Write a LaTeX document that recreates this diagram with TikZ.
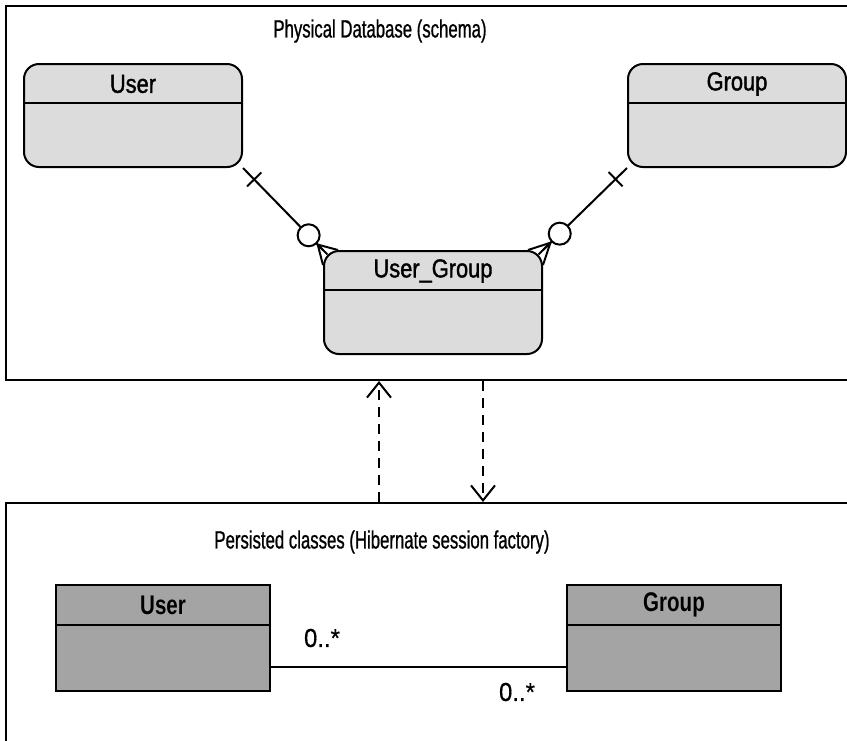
\documentclass[tikz,border=0pt]{standalone}
\usepackage{fontspec}
\setmainfont{Liberation Sans}[FakeStretch=0.67,FakeBold=0.8]
\newfontfamily\entfont{Liberation Sans}[FakeStretch=0.84,FakeBold=1.4]
\newfontfamily\clsfont{Liberation Sans Bold}[FakeStretch=0.76]
\newfontfamily\multfont{Liberation Sans}[FakeStretch=0.92,FakeBold=0.5]
\usetikzlibrary{calc,arrows.meta,backgrounds}
\definecolor{entfill}{HTML}{DCDCDC}
\definecolor{clsfill}{HTML}{A4A4A4}
\begin{document}
\begin{tikzpicture}[x=1pt,y=-1pt,
  frame/.style={draw, line width=2pt, inner sep=0pt, anchor=north west},
  entity/.style={draw, line width=2pt, fill=entfill, rounded corners=15pt,
    minimum width=218pt, minimum height=103pt, inner sep=0pt, anchor=north west},
  classbox/.style={draw, line width=2pt, fill=clsfill,
    minimum width=214pt, minimum height=106pt, inner sep=0pt, anchor=north west},
  divider/.style={line width=1.8pt},
  title/.style={font=\fontsize{25pt}{29pt}\selectfont, inner sep=0pt},
  enttitle/.style={font=\entfont\fontsize{26pt}{30pt}\selectfont, inner sep=0pt},
  clstitle/.style={font=\clsfont\fontsize{27pt}{31pt}\selectfont, inner sep=0pt},
  multlabel/.style={font=\multfont\fontsize{26pt}{30pt}\selectfont, inner sep=0pt},
  erline/.style={line width=2pt},
  assoc/.style={line width=1.6pt},
  dasharrow/.style={line width=2pt, dash pattern=on 10pt off 7pt,
    -{Straight Barb[length=15pt,width=24pt,line width=2pt]}},
  ringend/.style={circle, draw, fill=white, line width=2pt,
    minimum size=22pt, inner sep=0pt}
]
\useasboundingbox (0,0) rectangle (847,740);

% the two packages
\node[frame, minimum width=900pt, minimum height=374pt] (db) at (5,5) {};
\node[frame, minimum width=900pt, minimum height=300pt] (cf) at (5,502) {};
\node[title] (dbtitle) at (380,31) {Physical Database (schema)};
\node[title] (cftitle) at (382,542) {Persisted classes (Hibernate session factory)};

% tables of the schema
\node[entity] (eu) at (23,63) {};
\node[entity] (eg) at (627,63) {};
\node[entity] (eug) at (323,250) {};
\foreach \t/\txt in {eu/User, eg/Group, eug/User\_Group}{
  \draw[divider] ($(\t.north west)+(0,40)$) -- ($(\t.north east)+(0,40)$);
  \node[enttitle] at ($(\t.north)+(0,21)$) {\txt};
}

% relationship lines between the tables
\coordinate (la) at (eu.south east);
\coordinate (lb) at (eug.north west);
\coordinate (ra) at (eg.south west);
\coordinate (rb) at (eug.north east);
\begin{pgfonlayer}{background}
  \draw[erline] (la) -- (lb);
  \draw[erline] (ra) -- (rb);
\end{pgfonlayer}

% "one" bars
\coordinate (lbar) at ($(la)!16pt!(lb)$);
\draw[erline] ($(lbar)!10pt!90:(lb)$) -- ($(lbar)!10pt!-90:(lb)$);
\coordinate (rbar) at ($(ra)!16pt!(rb)$);
\draw[erline] ($(rbar)!10pt!90:(rb)$) -- ($(rbar)!10pt!-90:(rb)$);

% crow's feet
\coordinate (lfoot) at ($(la)!107pt!(lb)$);
\draw[erline, line join=round] ($(lb)+(15,0)$) -- (lfoot) -- ($(lb)+(0,15)$);
\draw[erline] (lfoot) -- ($(lb)+(4.4,4.4)$);
\coordinate (rfoot) at ($(ra)!107pt!(rb)$);
\draw[erline, line join=round] ($(rb)+(-15,0)$) -- (rfoot) -- ($(rb)+(0,15)$);
\draw[erline] (rfoot) -- ($(rb)+(-4.4,4.4)$);

% "zero" rings
\node[ringend] (lring) at ($(la)!94pt!(lb)$) {};
\node[ringend] (rring) at ($(ra)!94pt!(rb)$) {};

% mapping between schema and classes
\draw[dasharrow] ($(cf.north west)+(374,0)$) -- ($(db.south west)+(374,0)$);
\draw[dasharrow] ($(db.south west)+(478,0)$) -- ($(cf.north west)+(478,0)$);

% persisted classes
\node[classbox] (cu) at (55,584) {};
\node[classbox] (cg) at (566,584) {};
\foreach \t/\txt in {cu/User, cg/Group}{
  \draw[divider] ($(\t.north west)+(0,41)$) -- ($(\t.north east)+(0,41)$);
  \node[clstitle] at ($(\t.north)+(0,21)$) {\txt};
}
\draw[assoc] ($(cu.south east)+(0,-25)$) -- ($(cg.south west)+(0,-25)$);
\node[multlabel] (m1) at (322,638) {0..*};
\node[multlabel] (m2) at (517,692) {0..*};
\end{tikzpicture}
\end{document}
